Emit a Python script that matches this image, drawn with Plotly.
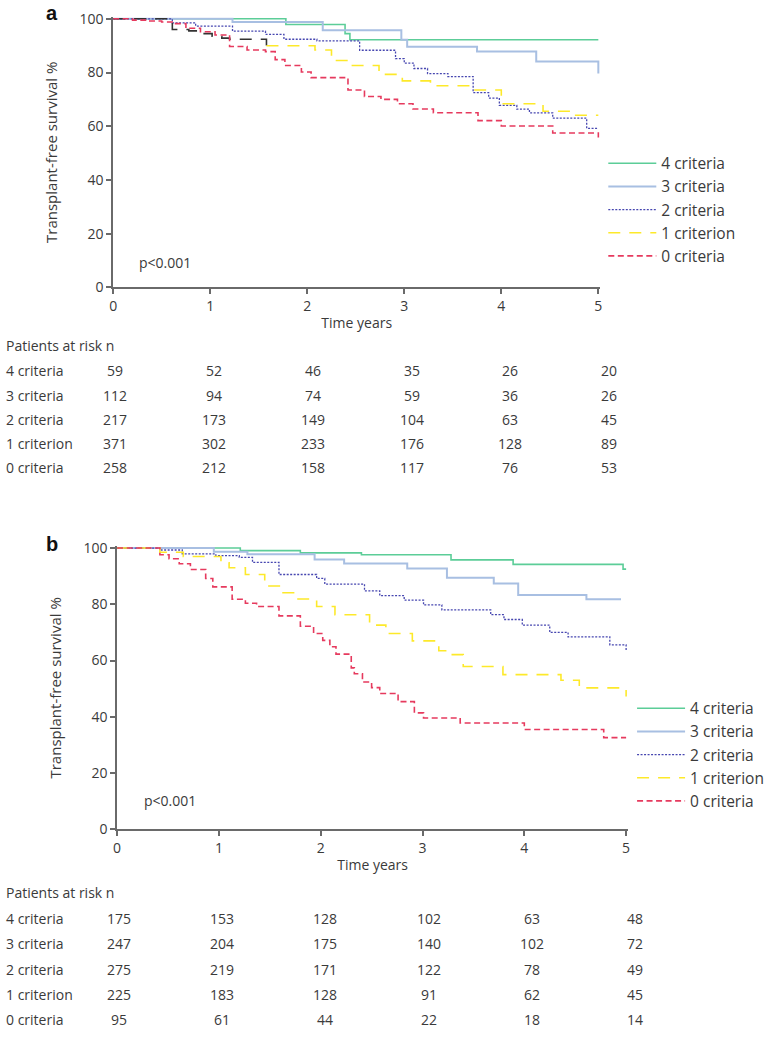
import plotly.graph_objects as go

W, H = 770, 1042

# ---------------- data: panel a ----------------
groups = ["4 criteria", "3 criteria", "2 criteria", "1 criterion", "0 criteria"]
time_ticks = [0, 1, 2, 3, 4, 5]

a4_t = [0, 1.78, 2.39, 2.44, 5.0]
a4_s = [100, 97.9, 94.5, 92.2, 92.2]
a3_t = [0, 1.23, 2.16, 2.97, 3.03, 3.75, 4.36, 5.0]
a3_s = [100, 98.8, 95.7, 92.2, 89.6, 87.8, 84.1, 79.6]
a2_t = [0, 0.61, 0.85, 1.23, 1.57, 1.76, 2.1, 2.54, 2.91, 3.0, 3.1, 3.24, 3.45, 3.71, 3.87, 3.98, 4.16, 4.29, 4.53, 4.88, 5.0]
a2_s = [100, 98.5, 97.3, 95.4, 94.2, 92.4, 91.8, 88.3, 85.2, 83.5, 81.5, 79.6, 78.5, 72.5, 70.5, 67.8, 66.4, 65.0, 63.0, 59.2, 59.2]
a1_t = [0, 0.61, 0.78, 0.9, 1.02, 1.12, 1.2, 1.58, 2.08, 2.25, 2.42, 2.74, 2.98, 3.27, 3.71, 4.0, 4.43, 4.73, 5.0]
a1_s = [100, 96.0, 95.5, 94.5, 93.5, 92.8, 92.4, 90.0, 88.4, 84.5, 82.6, 79.3, 76.9, 75.1, 73.5, 68.4, 65.6, 64.1, 64.1]
a1_split = 7  # early part of the "1 criterion" curve is drawn in dark grey
a0_t = [0, 0.2, 0.35, 0.5, 0.62, 0.75, 0.9, 1.05, 1.2, 1.38, 1.57, 1.67, 1.77, 1.94, 2.04, 2.42, 2.59, 2.76, 2.93, 3.09, 3.3, 3.76, 4.0, 4.53, 5.0]
a0_s = [100, 99.5, 99.2, 98.8, 98.2, 96.5, 95.2, 94.0, 89.7, 88.4, 87.8, 84.8, 82.6, 80.2, 78.1, 73.5, 71.1, 70.0, 68.4, 66.4, 65.0, 62.1, 60.1, 57.5, 55.8]

risk_a = {
    "4 criteria": [59, 52, 46, 35, 26, 20],
    "3 criteria": [112, 94, 74, 59, 36, 26],
    "2 criteria": [217, 173, 149, 104, 63, 45],
    "1 criterion": [371, 302, 233, 176, 128, 89],
    "0 criteria": [258, 212, 158, 117, 76, 53],
}

# ---------------- data: panel b ----------------
b4_t = [0, 1.21, 1.8, 2.4, 3.28, 3.89, 4.97, 5.0]
b4_s = [100, 99.1, 98.3, 97.6, 95.8, 94.2, 92.5, 92.5]
b3_t = [0, 0.95, 1.28, 1.94, 2.23, 2.85, 3.24, 3.7, 3.94, 4.61, 4.95]
b3_s = [100, 98.7, 97.8, 95.9, 94.5, 92.7, 89.4, 87.4, 83.3, 81.8, 81.8]
b2_t = [0, 0.42, 0.64, 0.97, 1.2, 1.33, 1.59, 1.96, 2.04, 2.43, 2.58, 2.82, 3.01, 3.19, 3.67, 3.8, 3.98, 4.25, 4.43, 4.84, 5.0]
b2_s = [100, 99.3, 97.9, 97.3, 96.7, 94.9, 90.6, 89.2, 87.2, 84.8, 83.1, 81.5, 79.8, 78.0, 76.3, 74.6, 72.6, 70.0, 68.4, 65.6, 63.7]
b1_t = [0, 0.42, 0.65, 1.02, 1.1, 1.26, 1.45, 1.63, 1.76, 1.96, 2.14, 2.48, 2.64, 2.9, 3.16, 3.28, 3.4, 3.79, 4.36, 4.54, 5.0]
b1_s = [100, 98.5, 97.0, 94.8, 93.0, 90.6, 86.5, 84.1, 81.9, 79.2, 76.3, 72.6, 69.6, 67.0, 63.5, 62.1, 57.9, 55.0, 53.0, 50.3, 47.2]
b0_t = [0, 0.42, 0.51, 0.61, 0.72, 0.87, 0.94, 1.13, 1.26, 1.37, 1.59, 1.8, 1.93, 2.02, 2.09, 2.15, 2.3, 2.33, 2.41, 2.5, 2.58, 2.76, 2.92, 3.01, 3.37, 4.0, 4.78, 5.0]
b0_s = [100, 97.6, 96.2, 94.4, 92.4, 89.2, 86.2, 81.8, 80.4, 79.2, 75.9, 72.2, 69.6, 67.2, 64.9, 62.3, 57.4, 55.3, 52.4, 50.4, 48.3, 45.4, 41.4, 39.6, 37.8, 35.5, 32.6, 32.6]

risk_b = {
    "4 criteria": [175, 153, 128, 102, 63, 48],
    "3 criteria": [247, 204, 175, 140, 102, 72],
    "2 criteria": [275, 219, 171, 122, 78, 49],
    "1 criterion": [225, 183, 128, 91, 62, 45],
    "0 criteria": [95, 61, 44, 22, 18, 14],
}

# ---------------- styles ----------------
FONT = "Open Sans"
FS = 14
TXT = "#3a3a3a"
AX = "#6a6a6a"
styles = {
    "4 criteria": dict(color="#5ccd98", width=1.6, dash="solid"),
    "3 criteria": dict(color="#a8bfe2", width=2.0, dash="solid"),
    "2 criteria": dict(color="#4646b0", width=1.3, dash="2px,1.5px"),
    "1 criterion": dict(color="#fde92a", width=1.6, dash="12px,9px"),
    "0 criteria": dict(color="#e63a5e", width=1.6, dash="6px,3.5px"),
}

def px(x):
    return x / W

def py(y):
    return 1 - y / H

fig = go.Figure()

def add_curve(t, s, name, xa, ya, legend, showlegend=True, color=None):
    st = dict(styles[name])
    if color:
        st["color"] = color
    fig.add_trace(go.Scatter(
        x=t, y=s, mode="lines", line_shape="hv", name=name, line=st,
        xaxis=xa, yaxis=ya, legend=legend, showlegend=showlegend,
        hoverinfo="skip"))

# panel a traces (legend order 4..0)
add_curve(a4_t, a4_s, "4 criteria", "x", "y", "legend")
add_curve(a3_t, a3_s, "3 criteria", "x", "y", "legend")
add_curve(a2_t, a2_s, "2 criteria", "x", "y", "legend")
add_curve(a1_t[:a1_split + 1], a1_s[:a1_split + 1], "1 criterion", "x", "y", "legend",
          showlegend=False, color="#333333")
add_curve(a1_t[a1_split:], a1_s[a1_split:], "1 criterion", "x", "y", "legend")
add_curve(a0_t, a0_s, "0 criteria", "x", "y", "legend")

# panel b traces
add_curve(b4_t, b4_s, "4 criteria", "x2", "y2", "legend2")
add_curve(b3_t, b3_s, "3 criteria", "x2", "y2", "legend2")
add_curve(b2_t, b2_s, "2 criteria", "x2", "y2", "legend2")
add_curve(b1_t, b1_s, "1 criterion", "x2", "y2", "legend2")
add_curve(b0_t, b0_s, "0 criteria", "x2", "y2", "legend2")

# ---------------- axes geometry (pixels) ----------------
XMAX, YMAX = 5.02, 100.6

def dom(x0p, x5p, y0p, y100p):
    sx = (x5p - x0p) / 5
    sy = (y0p - y100p) / 100
    xd = [px(x0p), px(x0p + XMAX * sx)]
    yd = [py(y0p), py(y0p - YMAX * sy)]
    return xd, yd

xa_dom, ya_dom = dom(110, 599, 284, 11)
xb_dom, yb_dom = dom(114, 627, 835, 549)

tfont = dict(family=FONT, size=FS, color=TXT)
yfont = dict(family=FONT, size=15, color=TXT)
axis_common = dict(showline=True, linecolor=AX, linewidth=1.5, ticks="outside",
                   ticklen=5, tickwidth=1.5, tickcolor=AX, showgrid=False, zeroline=False,
                   tickfont=tfont)

fig.update_layout(
    xaxis=dict(domain=xa_dom, range=[0, XMAX], tickvals=time_ticks, anchor="y",
               title=dict(text="Time years", font=tfont, standoff=4), **axis_common),
    yaxis=dict(domain=ya_dom, range=[0, YMAX], tickvals=[0, 20, 40, 60, 80, 100], anchor="x",
               title=dict(text="Transplant-free survival %", font=yfont, standoff=18), **axis_common),
    xaxis2=dict(domain=xb_dom, range=[0, XMAX], tickvals=time_ticks, anchor="y2",
                title=dict(text="Time years", font=tfont, standoff=4), **axis_common),
    yaxis2=dict(domain=yb_dom, range=[0, YMAX], tickvals=[0, 20, 40, 60, 80, 100], anchor="x2",
                title=dict(text="Transplant-free survival %", font=yfont, standoff=18), **axis_common),
)

legend_common = dict(font=dict(family=FONT, size=15.5, color=TXT), bgcolor="rgba(0,0,0,0)",
                     xanchor="left", yanchor="top", tracegroupgap=0, itemwidth=48)
fig.update_layout(
    legend=dict(x=px(604), y=py(141), **legend_common),
    legend2=dict(x=px(633), y=py(695), **legend_common),
)

annotations = []
annotations.append(dict(text="<b>a</b>", x=px(40), y=py(5), xref="paper", yref="paper",
                        xanchor="left", yanchor="middle", showarrow=False,
                        font=dict(family="Liberation Sans", size=20, color="#111")))
annotations.append(dict(text="<b>b</b>", x=px(40), y=py(545), xref="paper", yref="paper",
                        xanchor="left", yanchor="middle", showarrow=False,
                        font=dict(family="Liberation Sans", size=20, color="#111")))
annotations.append(dict(text="p<0.001", x=px(134), y=py(259), xref="paper", yref="paper",
                        xanchor="left", yanchor="middle", showarrow=False, font=tfont))
annotations.append(dict(text="p<0.001", x=px(139), y=py(806), xref="paper", yref="paper",
                        xanchor="left", yanchor="middle", showarrow=False, font=tfont))

def table(risk, title_y, row0_y, row_step, col0_x, col_step):
    annotations.append(dict(text="Patients at risk n", x=px(0), y=py(title_y), xref="paper", yref="paper",
                            xanchor="left", yanchor="middle", showarrow=False, font=tfont))
    for i, g in enumerate(groups):
        yy = py(row0_y + i * row_step)
        annotations.append(dict(text=g, x=px(0), y=yy, xref="paper", yref="paper",
                                xanchor="left", yanchor="middle", showarrow=False, font=tfont))
        for j, v in enumerate(risk[g]):
            annotations.append(dict(text=str(v), x=px(col0_x + j * col_step), y=yy,
                                    xref="paper", yref="paper", xanchor="center", yanchor="middle",
                                    showarrow=False, font=tfont))

table(risk_a, 343, 369, 24.6, 112, 99.6)
table(risk_b, 899, 926, 25.5, 116, 104)

fig.update_layout(
    annotations=annotations,
    width=W, height=H, margin=dict(l=0, r=0, t=0, b=0),
    paper_bgcolor="white", plot_bgcolor="white",
    font=tfont,
)

fig.write_html("out.html", config={"displayModeBar": False},
               post_script="document.body.style.margin='0';document.body.style.overflow='hidden';")
